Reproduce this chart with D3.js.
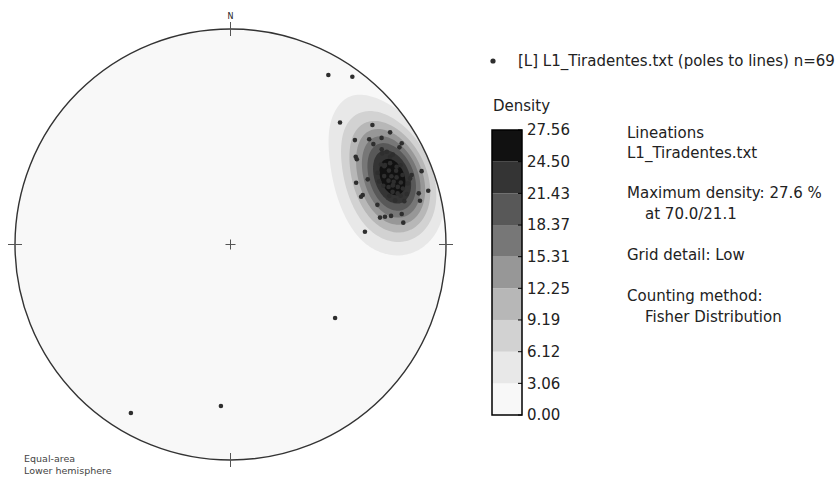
<!DOCTYPE html>
<html>
<head>
<meta charset="utf-8">
<script src="https://cdnjs.cloudflare.com/ajax/libs/d3/7.8.5/d3.min.js"></script>
<style>
body { margin: 0; background: #fff; }
text { font-family: "DejaVu Sans", sans-serif; fill: #222; }
</style>
</head>
<body>
<svg width="840" height="477"></svg>
<script>

// L1_Tiradentes lineations, trend / plunge (deg)
let trends = [210.6, 183.4, 125.1, 30.0, 36.0, 41.9, 49.9, 54.9, 50.0, 52.8,
    54.8, 54.9, 59.4, 60.1, 55.0, 56.0, 57.8, 59.3, 61.2, 62.8,
    64.9, 69.0, 69.0, 69.8, 64.6, 63.8, 69.9, 74.8, 74.8, 69.5,
    69.9, 77.0, 74.9, 79.9, 79.9, 79.8, 79.8, 82.8, 84.6,
    59, 61, 62, 63, 64, 65, 65, 66, 66, 67,
    68, 68, 68, 69, 69, 70, 70, 70, 71, 71,
    72, 72, 73, 73, 74, 74, 75, 63, 67, 76]
let plunges = [10.1, 25.9, 40.4, 10.1, 4.3, 24.9, 15.0, 10.4, 25.6, 20.3,
    15.3, 20.1, 8.5, 10.5, 29.8, 30.0, 18.2, 16.8, 16.6, 20.5,
    16.0, 5.6, 10.9, 12.2, 30.2, 35.3, 20.7, 5.5, 10.4, 34.8,
    35.7, 10.7, 30.1, 20.4, 25.3, 28.0, 30.2, 20.3, 37.4,
    19, 15, 22, 18, 25, 14, 20, 17, 23, 20,
    15, 18, 22, 25, 20, 17, 21, 23, 14, 19,
    22, 17, 20, 24, 16, 19, 22, 21, 26, 18]

let levels = [0, 3.06, 6.12, 9.19, 12.25, 15.31, 18.37, 21.43, 24.50, 27.56]
let levelLabels = ["0.00", "3.06", "6.12", "9.19", "12.25", "15.31", "18.37", "21.43", "24.50", "27.56"]
let maxDensity = 27.56
let kappa = 38

let legendLabel = "[L] L1_Tiradentes.txt (poles to lines) n=69"
let infoLines = ["Lineations", "L1_Tiradentes.txt", "Maximum density: 27.6 %", "at 70.0/21.1",
    "Grid detail: Low", "Counting method:", "Fisher Distribution"]
let netLabels = ["Equal-area", "Lower hemisphere"]

let svg = d3.select("svg")
let rad = Math.PI / 180
let cx = 230.5, cy = 244.5, R = 215.5
let fs = 15

let xs = d3.scaleLinear().domain([-1, 1]).range([cx - R, cx + R])
let ys = d3.scaleLinear().domain([-1, 1]).range([cy + R, cy - R])

function project(trend, plunge) {
    let rho = Math.SQRT2 * Math.sin((90 - plunge) * rad / 2)
    return [rho * Math.sin(trend * rad), rho * Math.cos(trend * rad)]
}

function toVec(trend, plunge) {
    return [Math.cos(plunge * rad) * Math.sin(trend * rad),
            Math.cos(plunge * rad) * Math.cos(trend * rad),
            Math.sin(plunge * rad)]
}

let data = trends.map((t, i) => toVec(t, plunges[i]))

// density grid (fisher kernel)
let n = 160, L = 1.02, step = 2 * L / n
let values = new Array(n * n)
let rawMax = 0
for (let j = 0; j < n; j++) {
    for (let i = 0; i < n; i++) {
        let u = -L + (i + 0.5) * step
        let v = L - (j + 0.5) * step
        let rho = Math.min(Math.sqrt(u * u + v * v), 1)
        let colat = 2 * Math.asin(rho / Math.SQRT2)
        let tr = Math.atan2(u, v)
        let g = [Math.sin(colat) * Math.sin(tr), Math.sin(colat) * Math.cos(tr), Math.cos(colat)]
        let s = 0
        data.forEach(d => {
            let c = d[0] * g[0] + d[1] * g[1] + d[2] * g[2]
            s += Math.exp(kappa * (c - 1))
        })
        values[i + j * n] = s
        if (Math.sqrt(u * u + v * v) <= 1 && s > rawMax) rawMax = s
    }
}
values = values.map(s => s * maxDensity / rawMax)

let color = i => d3.interpolateGreys((i + 0.5) / (levels.length - 1))

svg.append("clipPath").attr("id", "net")
    .append("circle").attr("cx", cx).attr("cy", cy).attr("r", R)

svg.append("circle")
    .attr("cx", cx).attr("cy", cy).attr("r", R)
    .attr("fill", color(0))

let gridToPx = d3.geoTransform({
    point: function (gx, gy) { this.stream.point(xs(-L + gx * step), ys(L - gy * step)) }
})
let contours = d3.contours().size([n, n]).thresholds(levels.slice(1, -1))(values)

svg.append("g").attr("clip-path", "url(#net)")
    .selectAll("path")
    .data(contours)
    .join("path")
    .attr("d", d3.geoPath(gridToPx))
    .attr("fill", (d, i) => color(i + 1))

svg.append("circle")
    .attr("cx", cx).attr("cy", cy).attr("r", R)
    .attr("fill", "none")
    .attr("stroke", "#333")
    .attr("stroke-width", 1.4)

// ticks N E S W and centre cross
let crossStyle = sel => sel.attr("stroke", "#555").attr("stroke-width", 1)
;[0, 90, 180, 270].forEach(a => {
    let p = project(a, 0)
    svg.append("line")
        .attr("x1", xs(p[0]) - 7 * Math.sin(a * rad)).attr("x2", xs(p[0]) + 7 * Math.sin(a * rad))
        .attr("y1", ys(p[1]) - 7 * Math.cos(a * rad)).attr("y2", ys(p[1]) + 7 * Math.cos(a * rad))
        .call(crossStyle)
})
svg.append("line").attr("x1", cx - 5).attr("x2", cx + 5).attr("y1", cy).attr("y2", cy).call(crossStyle)
svg.append("line").attr("x1", cx).attr("x2", cx).attr("y1", cy - 5).attr("y2", cy + 5).call(crossStyle)

svg.append("text")
    .attr("x", cx).attr("y", cy - R - 10)
    .attr("text-anchor", "middle")
    .attr("font-size", 8)
    .text("N")

// poles
svg.append("g")
    .selectAll("circle")
    .data(trends.map((t, i) => project(t, plunges[i])))
    .join("circle")
    .attr("cx", d => xs(d[0]))
    .attr("cy", d => ys(d[1]))
    .attr("r", 2.3)
    .attr("fill", "#2e2e2e")

svg.selectAll(".netlabel")
    .data(netLabels)
    .join("text")
    .attr("class", "netlabel")
    .attr("x", 24)
    .attr("y", (d, i) => 462 + i * 12)
    .attr("font-size", 9.5)
    .style("fill", "#444")
    .text(d => d)

// legend
svg.append("circle").attr("cx", 493).attr("cy", 61).attr("r", 2.6).attr("fill", "#2e2e2e")
svg.append("text").attr("x", 518).attr("y", 61).attr("dy", "0.35em").attr("font-size", fs).text(legendLabel)

// colorbar
let cb = d3.scaleLinear().domain([0, maxDensity]).range([415, 130])
let cbx = 492, cbw = 30

svg.append("text").attr("x", cbx + 1).attr("y", 106).attr("dy", "0.35em").attr("font-size", fs).text("Density")

svg.append("g")
    .selectAll("rect")
    .data(levels.slice(0, -1))
    .join("rect")
    .attr("x", cbx)
    .attr("width", cbw)
    .attr("y", (d, i) => cb(levels[i + 1]))
    .attr("height", (d, i) => cb(d) - cb(levels[i + 1]))
    .attr("fill", (d, i) => color(i))

svg.append("rect")
    .attr("x", cbx).attr("y", cb(maxDensity))
    .attr("width", cbw).attr("height", cb(0) - cb(maxDensity))
    .attr("fill", "none").attr("stroke", "#000").attr("stroke-width", 1.5)

svg.append("g")
    .selectAll("line")
    .data(levels)
    .join("line")
    .attr("x1", cbx + cbw - 4).attr("x2", cbx + cbw)
    .attr("y1", d => cb(d)).attr("y2", d => cb(d))
    .attr("stroke", "#000")

svg.append("g")
    .selectAll("text")
    .data(levelLabels)
    .join("text")
    .attr("x", cbx + cbw + 5)
    .attr("y", (d, i) => cb(levels[i]))
    .attr("dy", "0.35em")
    .attr("font-size", fs)
    .text(d => d)

// info text
let infoY = [133, 153, 193, 214, 255, 296, 317]
let infoIndent = [0, 0, 0, 18, 0, 0, 18]
svg.append("g")
    .selectAll("text")
    .data(infoLines)
    .join("text")
    .attr("x", (d, i) => 627 + infoIndent[i])
    .attr("y", (d, i) => infoY[i])
    .attr("dy", "0.35em")
    .attr("font-size", fs)
    .text(d => d)

</script>
</body>
</html>
